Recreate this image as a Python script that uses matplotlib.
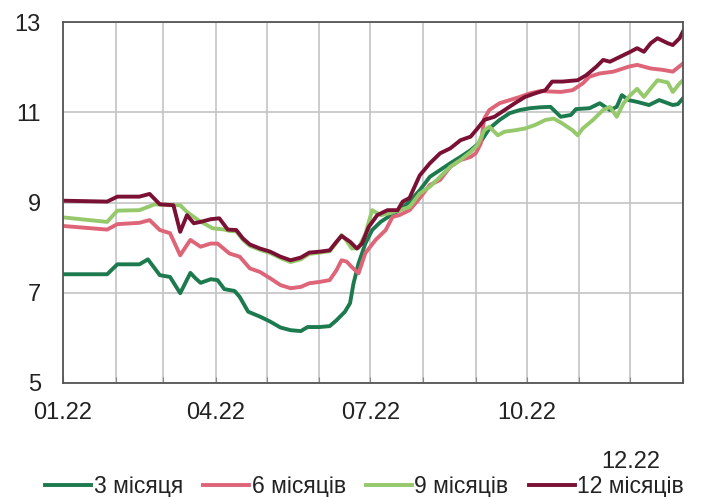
import matplotlib
matplotlib.use('Agg')
import matplotlib.pyplot as plt
import pandas as pd

plt.rcParams['font.family'] = ['Liberation Sans', 'DejaVu Sans']

START = pd.Timestamp('2022-01-01')

# day of year / yield
days_3m = [0, 26, 32, 45, 50, 57, 63, 69, 75, 78, 81, 87, 91, 95, 101, 104, 109, 116, 122, 128,
           134, 140, 144, 151, 157, 161, 166, 169, 171, 174, 178, 182, 187, 193, 198, 204, 210,
           216, 222, 228, 234, 240, 246, 251, 257, 263, 269, 275, 281, 287, 293, 299, 302, 310,
           316, 322, 326, 329, 333, 338, 345, 351, 359, 362, 365]
vals_3m = [7.41, 7.41, 7.63, 7.63, 7.74, 7.39, 7.35, 6.99, 7.44, 7.32, 7.22, 7.30, 7.28, 7.08,
           7.04, 6.91, 6.58, 6.47, 6.36, 6.23, 6.17, 6.15, 6.24, 6.24, 6.26, 6.39, 6.58, 6.77,
           7.20, 7.65, 8.09, 8.39, 8.57, 8.72, 8.83, 9.02, 9.27, 9.57, 9.72, 9.87, 10.01, 10.16,
           10.35, 10.64, 10.83, 10.98, 11.05, 11.09, 11.11, 11.12, 10.90, 10.94, 11.07, 11.09,
           11.20, 11.05, 11.12, 11.38, 11.27, 11.23, 11.16, 11.27, 11.16, 11.18, 11.31]

days_6m = [0, 26, 32, 45, 51, 57, 63, 69, 73, 75, 81, 87, 91, 98, 104, 110, 116, 122, 128, 134,
           140, 145, 151, 157, 161, 164, 167, 170, 174, 178, 184, 190, 194, 198, 204, 209, 216,
           222, 228, 234, 240, 243, 246, 248, 251, 257, 263, 269, 275, 281, 293, 300, 306, 310,
           316, 324, 333, 338, 346, 353, 359, 365]
vals_6m = [8.48, 8.40, 8.52, 8.55, 8.61, 8.39, 8.32, 7.83, 8.06, 8.17, 8.02, 8.09, 8.09, 7.87,
           7.80, 7.54, 7.46, 7.32, 7.17, 7.10, 7.13, 7.21, 7.24, 7.28, 7.50, 7.72, 7.69, 7.57,
           7.43, 7.88, 8.17, 8.39, 8.68, 8.72, 8.83, 9.05, 9.39, 9.50, 9.79, 9.94, 10.01, 10.09,
           10.31, 10.86, 11.05, 11.20, 11.27, 11.34, 11.42, 11.47, 11.45, 11.49, 11.64, 11.79,
           11.86, 11.90, 12.01, 12.05, 11.97, 11.94, 11.90, 12.08]

days_9m = [0, 26, 32, 45, 54, 63, 69, 73, 80, 88, 95, 98, 102, 106, 110, 116, 122, 128, 134,
           140, 145, 151, 157, 161, 164, 167, 170, 174, 178, 182, 187, 193, 198, 204, 210, 216,
           222, 228, 234, 240, 244, 248, 251, 256, 260, 266, 272, 278, 284, 289, 294, 300, 303,
           306, 312, 318, 322, 326, 330, 334, 338, 342, 346, 350, 356, 359, 363, 365]
vals_9m = [8.67, 8.57, 8.82, 8.83, 8.96, 8.94, 8.94, 8.79, 8.60, 8.43, 8.40, 8.37, 8.36, 8.17,
           8.04, 7.95, 7.88, 7.77, 7.68, 7.74, 7.86, 7.89, 7.92, 8.11, 8.28, 8.15, 7.98, 7.99,
           8.30, 8.83, 8.72, 8.77, 8.83, 8.90, 9.20, 9.35, 9.57, 9.79, 9.94, 10.12, 10.27, 10.60,
           10.68, 10.49, 10.57, 10.60, 10.64, 10.72, 10.83, 10.86, 10.75, 10.60, 10.49, 10.64,
           10.83, 11.05, 11.12, 10.90, 11.20, 11.38, 11.52, 11.34, 11.53, 11.71, 11.66, 11.45,
           11.64, 11.71]

days_12m = [0, 26, 32, 45, 51, 57, 65, 69, 73, 77, 81, 87, 92, 97, 102, 106, 110, 116, 122, 128,
            134, 140, 145, 151, 157, 161, 164, 169, 173, 176, 180, 185, 191, 197, 200, 204, 210,
            216, 222, 228, 234, 240, 244, 248, 254, 260, 266, 272, 278, 284, 288, 294, 303, 308,
            314, 318, 322, 328, 334, 338, 342, 346, 350, 356, 359, 363, 365]
vals_12m = [9.04, 9.02, 9.13, 9.13, 9.19, 8.96, 8.94, 8.35, 8.72, 8.54, 8.57, 8.63, 8.65, 8.40,
            8.39, 8.20, 8.07, 7.98, 7.91, 7.80, 7.72, 7.78, 7.89, 7.91, 7.94, 8.13, 8.26, 8.13,
            7.98, 8.09, 8.46, 8.72, 8.83, 8.83, 9.02, 9.10, 9.60, 9.87, 10.09, 10.20, 10.38,
            10.46, 10.64, 10.83, 10.90, 11.05, 11.20, 11.34, 11.42, 11.49, 11.68, 11.68, 11.71,
            11.82, 12.01, 12.16, 12.12, 12.23, 12.34, 12.42, 12.34, 12.53, 12.64, 12.53, 12.49,
            12.64, 12.79]

labels = ['3 місяця', '6 місяців', '9 місяців', '12 місяців']
colors = ['#1d7a4e', '#de6478', '#95c96c', '#7a1034']
series = [(days_3m, vals_3m), (days_6m, vals_6m), (days_9m, vals_9m), (days_12m, vals_12m)]

fig = plt.figure(figsize=(7.11, 4.97), dpi=100)
ax = fig.add_axes([0.0886, 0.2294, 0.872, 0.7263])

for (d, v), lab, col in zip(series, labels, colors):
    dates = START + pd.to_timedelta(d, unit='D')
    ax.plot(dates, v, color=col, lw=2.8, label=lab, solid_joinstyle='round')

ax.set_xlim(START, pd.Timestamp('2023-01-01'))
ax.set_ylim(5, 13)
ax.set_yticks([5, 7, 9, 11, 13])

months = pd.date_range('2022-01-01', '2023-01-01', freq='MS')
ax.set_xticks(months)
ax.set_xticklabels(['01.22', '', '', '04.22', '', '', '07.22', '', '', '10.22', '', '', ''])
ax.grid(True, color='#c4c4c4', lw=1.2)
ax.set_axisbelow(True)

# the 12.22 label sits lower, just above the legend
ax.annotate('12.22', xy=(pd.Timestamp('2022-12-01'), 0), xycoords=('data', 'axes fraction'),
            xytext=(0, -49), textcoords='offset points', ha='center', va='top',
            fontsize=17, color='#222222')

ax.tick_params(axis='x', direction='in', length=4, color='#888888', pad=14,
               labelsize=17, labelcolor='#222222')
ax.tick_params(axis='y', length=0, pad=16, labelsize=17, labelcolor='#222222')
for s in ax.spines.values():
    s.set_color('#555555')
    s.set_linewidth(1.3)

fig.legend(loc='center', bbox_to_anchor=(0.513, 0.022), ncol=4, frameon=False,
           fontsize=16.5, handlelength=2.0, handletextpad=0.1, columnspacing=0.9,
           labelcolor='#222222')

fig.savefig('out.png', dpi=100)
